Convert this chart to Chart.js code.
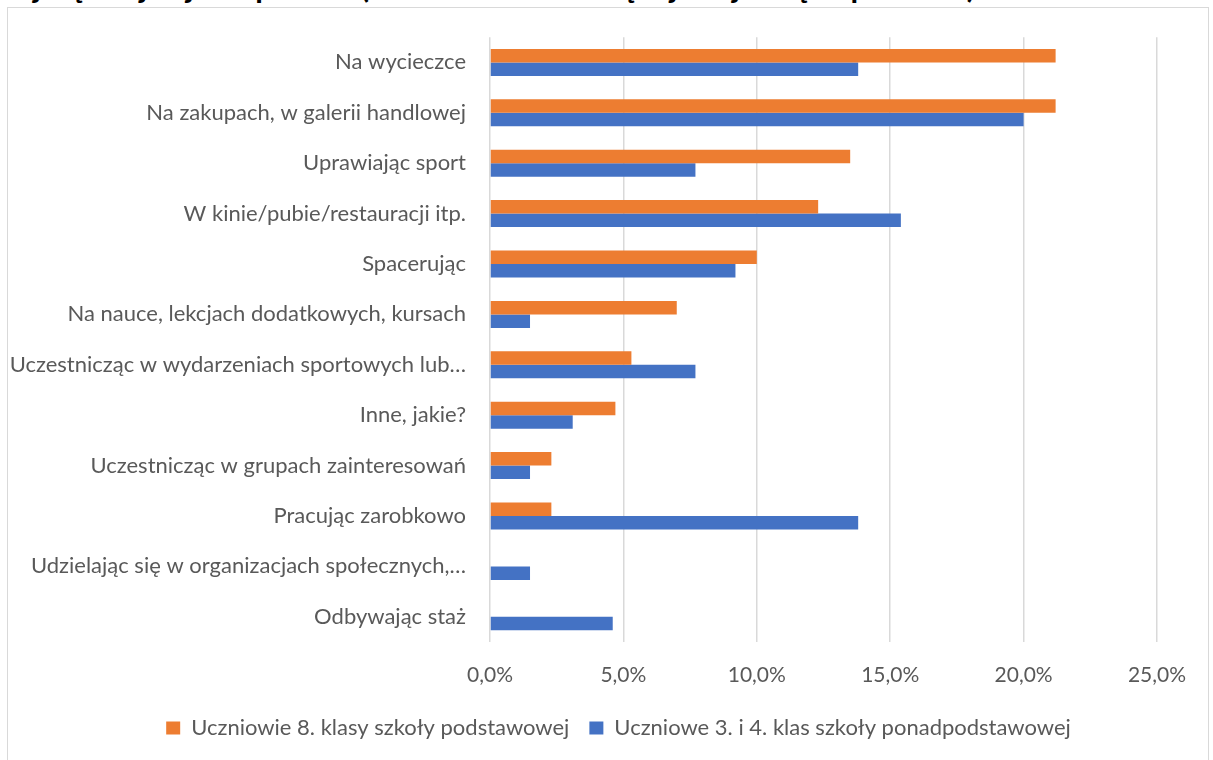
<!DOCTYPE html>
<html>
<head>
<meta charset="utf-8">
<script src="https://cdn.jsdelivr.net/npm/chart.js@4.4.1/dist/chart.umd.min.js"></script>
<style>
  html, body { margin: 0; padding: 0; background: #fff; overflow: hidden; }
  #wrap { position: relative; width: 1213px; height: 760px; }
  #frame { position: absolute; left: 7px; top: 7px; width: 1202px; height: 800px; border: 1px solid #d9d9d9; box-sizing: border-box; }
  #title { position: absolute; left: 0; top: -29px; line-height: 31px; font-family: Lato, sans-serif; font-weight: bold; font-size: 31px; color: #000; white-space: nowrap; }
  #chart { position: absolute; left: 0; top: 0; }
</style>
</head>
<body>
<div id="wrap">
  <div id="frame"></div>
  <div id="title">najczęściej w jaki sposób? (można wskazać więcej niż jedną odpowiedź)</div>
  <canvas id="chart" width="1213" height="760"></canvas>
</div>
<script>
// kategorie i wartości (w %)
const categories = [
    'Na wycieczce',
    'Na zakupach, w galerii handlowej',
    'Uprawiając sport',
    'W kinie/pubie/restauracji itp.',
    'Spacerując',
    'Na nauce, lekcjach dodatkowych, kursach',
    'Uczestnicząc w wydarzeniach sportowych lub…',
    'Inne, jakie?',
    'Uczestnicząc w grupach zainteresowań',
    'Pracując zarobkowo',
    'Udzielając się w organizacjach społecznych,…',
    'Odbywając staż'
];

const seriesNames = [
    'Uczniowie 8. klasy szkoły podstawowej',
    'Uczniowe 3. i 4. klas szkoły ponadpodstawowej'
];

const primaryValues = [21.2, 21.2, 13.5, 12.3, 10.0, 7.0, 5.3, 4.7, 2.3, 2.3, 0, 0];
const secondaryValues = [13.8, 20.0, 7.7, 15.4, 9.2, 1.5, 7.7, 3.1, 1.5, 13.8, 1.5, 4.6];

const xTicks = [0, 5, 10, 15, 20, 25];

const textColor = '#595959';
const gridColor = '#d9d9d9';
const fontFamily = 'Lato, sans-serif';

// przesunięcie legendy w prawo, jak w oryginale
const legendShift = {
    id: 'legendShift',
    afterLayout(chart) {
        const lg = chart.legend;
        if (lg) {
            lg.left += 40;
            lg.right += 40;
        }
    }
};

const ctx = document.getElementById('chart').getContext('2d');
new Chart(ctx, {
    type: 'bar',
    data: {
        labels: categories,
        datasets: [{
            label: seriesNames[0],
            data: primaryValues,
            backgroundColor: '#ED7D31',
            borderWidth: 0
        }, {
            label: seriesNames[1],
            data: secondaryValues,
            backgroundColor: '#4472C4',
            borderWidth: 0
        }]
    },
    plugins: [legendShift],
    options: {
        indexAxis: 'y',
        responsive: false,
        animation: false,
        categoryPercentage: 0.535,
        barPercentage: 1.0,
        layout: {
            padding: { top: 36, right: 56, bottom: 11, left: 0 }
        },
        plugins: {
            legend: {
                position: 'bottom',
                labels: {
                    color: textColor,
                    font: { family: fontFamily, size: 22 },
                    boxWidth: 14,
                    boxHeight: 13,
                    padding: 20
                }
            },
            tooltip: { enabled: false }
        },
        scales: {
            x: {
                min: 0,
                max: 25,
                afterBuildTicks: function(scale) {
                    scale.ticks = xTicks.map(v => ({ value: v }));
                },
                afterFit: function(scale) {
                    scale.height = 55;
                },
                grid: {
                    color: gridColor,
                    lineWidth: 1.5,
                    drawTicks: false
                },
                border: { display: false },
                ticks: {
                    color: textColor,
                    padding: 21,
                    font: { family: fontFamily, size: 21 },
                    callback: function(v) {
                        return v.toFixed(1).replace('.', ',') + '%';
                    }
                }
            },
            y: {
                grid: { display: false, drawTicks: false },
                border: { display: false },
                ticks: {
                    color: textColor,
                    padding: 24,
                    font: { family: fontFamily, size: 22 }
                },
                afterFit: function(scale) {
                    scale.width = 490;
                }
            }
        }
    }
});
</script>
</body>
</html>
